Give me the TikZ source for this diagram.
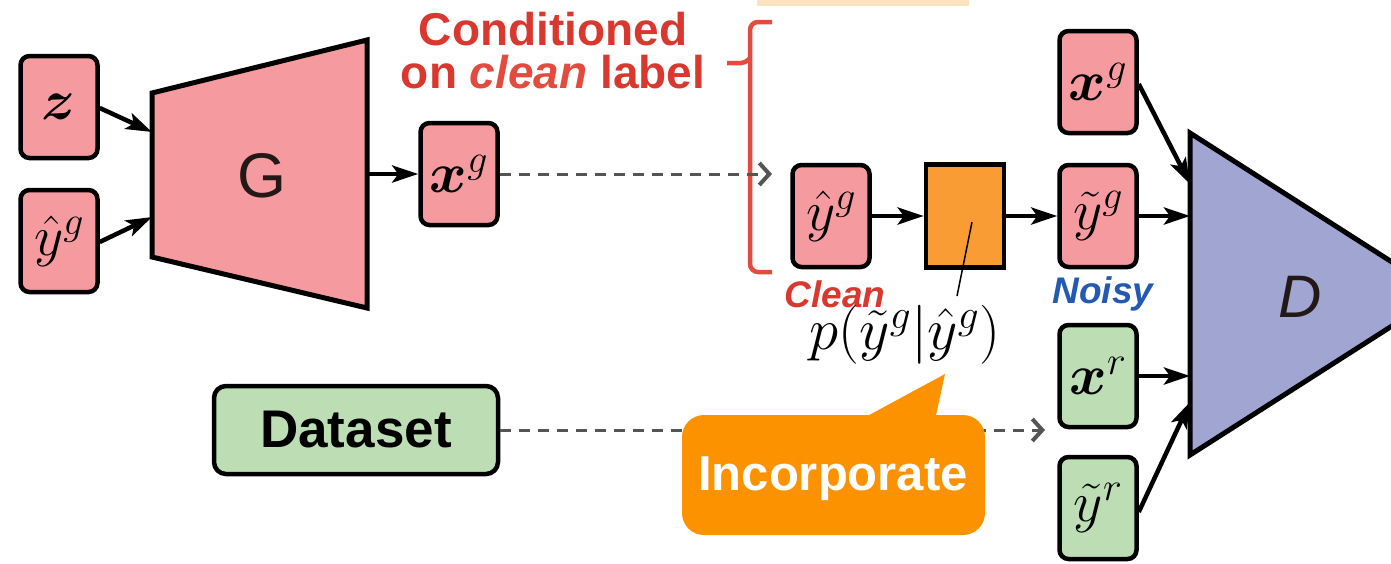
\RequirePackage{fix-cm}
\documentclass[tikz,border=0pt]{standalone}
\usepackage{fontspec}
\setsansfont{Liberation Sans}
\usepackage{amsmath}
\usepackage{bm}
\usetikzlibrary{arrows.meta}

\definecolor{genpink}{HTML}{F59BA0}
\definecolor{realgreen}{HTML}{BDDEB4}
\definecolor{noiseorange}{HTML}{F89C33}
\definecolor{calloutorange}{HTML}{FD9200}
\definecolor{discblue}{HTML}{A0A5D2}
\definecolor{condred}{HTML}{D9382E}
\definecolor{bracered}{HTML}{E24B3D}
\definecolor{noisyblue}{HTML}{2359B3}
\definecolor{tabbeige}{HTML}{FCE3C0}
\definecolor{feedgray}{HTML}{555555}
\definecolor{netink}{HTML}{231815}

\newcommand{\setfs}[1]{\fontsize{#1}{#1}\selectfont}

\begin{document}
\begin{tikzpicture}[x=1pt,y=-1pt,
  mbox/.style={draw=black,line width=4.5pt,rounded corners=9pt,minimum width=77pt,
    minimum height=102pt,inner sep=0pt,font=\setfs{57}},
  gbox/.style={mbox,fill=genpink},
  rbox/.style={mbox,fill=realgreen},
  flow/.style={line width=4.5pt,-{Stealth[length=26pt,width=17pt,inset=6pt]}},
  feed/.style={draw=feedgray,line width=3pt,dash pattern=on 11pt off 8pt,
    -{Straight Barb[length=10pt,width=22pt,line width=4pt]}},
  net/.style={draw=black,line width=5pt,line join=miter},
  tag/.style={font=\sffamily\bfseries\itshape\setfs{37}},
]
\useasboundingbox (0,0) rectangle (1391,563);
\clip (0,0) rectangle (1391,563);

% small tab at the top edge
\fill[tabbeige] (757,0) rectangle (969,6);

% ---------- generator ----------
\node[gbox] (z) at (59,107) {$\bm{z}$};
\node[gbox] (yhatin) at (59,241) {$\hat{y}^{g}$};
\draw[net,fill=genpink] (152,93) -- (367,40) -- (367,308) -- (152,257) -- cycle;
\node[font=\sffamily\setfs{63},text=netink] (G) at (262,176) {G};
\coordinate (Gin1) at (152,132);
\coordinate (Gin2) at (152,217);
\coordinate (Gout) at (367,174);
\node[gbox] (xg) at (459,174) {$\bm{x}^{g}$};
\draw[flow] (z.east |- 0,108) -- (Gin1);
\draw[flow] (yhatin.east |- 0,242) -- (Gin2);
\draw[flow] (Gout) -- (xg.west);

% ---------- condition bracket ----------
\node[align=center,text=condred,font=\sffamily\bfseries\setfs{46}] (cond) at (553,51)
  {Conditioned\\[-3pt]on {\color{bracered}\itshape clean} label};
\draw[bracered,line width=4.5pt,rounded corners=8pt] (772,22) -- (750,22) -- (750,272) -- (772,272);
\draw[bracered,line width=4.5pt,rounded corners=4pt] (727,63) -- (745,63) -- (750,58);
\coordinate (brk) at (772,174);
\draw[feed] (xg.east) -- (brk);

% ---------- label noise ----------
\node[gbox] (yhat) at (831,216) {$\hat{y}^{g}$};
\node[draw=black,line width=4.5pt,fill=noiseorange,minimum width=78pt,minimum height=103pt,
  inner sep=0pt] (noise) at (965,216) {};
\node[gbox] (ytg) at (1098,216) {$\tilde{y}^{g}$};
\draw[flow] (yhat.east) -- (noise.west);
\draw[flow] (noise.east) -- (ytg.west);
\node[tag,text=condred] (clean) at (835,294) {Clean};
\node[tag,text=noisyblue] (noisy) at (1103,294) {Noisy};
\node[font=\setfs{59}] (plab) at (905,335) {$p(\tilde{y}^{g}|\hat{y}^{g})$};
\coordinate (ptrA) at (972,222);
\coordinate (ptrB) at (957,296);
\draw[line width=1.5pt] (ptrA) -- (ptrB);

% ---------- discriminator ----------
\node[gbox] (xg2) at (1098,82) {$\bm{x}^{g}$};
\node[rbox] (xr) at (1098,376) {$\bm{x}^{r}$};
\node[rbox] (ytr) at (1098,508) {$\tilde{y}^{r}$};
\draw[net,fill=discblue] (1190,133) -- (1442,294) -- (1190,455) -- cycle;
\node[font=\sffamily\itshape\setfs{60},text=netink] (D) at (1300,297) {D};
\coordinate (Din1) at (1190,184);
\coordinate (Din2) at (1190,216);
\coordinate (Din3) at (1190,376);
\coordinate (Din4) at (1190,402);
\draw[flow] (xg2.east |- 0,84) -- (Din1);
\draw[flow] (ytg.east) -- (Din2);
\draw[flow] (xr.east) -- (Din3);
\draw[flow] (ytr.east |- 0,512) -- (Din4);

% ---------- real data ----------
\node[draw=black,line width=4.5pt,fill=realgreen,rounded corners=12pt,minimum width=284pt,
  minimum height=88pt,font=\sffamily\bfseries\setfs{53}] (data) at (356,430) {Dataset};
\coordinate (dataend) at (1045,430);
\draw[feed] (data.east) -- (dataend);

% ---------- callout ----------
\fill[calloutorange] (860,420) -- (945,374) -- (935,420) -- cycle;
\fill[calloutorange,rounded corners=22pt] (682,415) rectangle (985,535);
\node[text=white,font=\sffamily\bfseries\setfs{49}] (inc) at (833,479) {Incorporate};
\end{tikzpicture}
\end{document}
